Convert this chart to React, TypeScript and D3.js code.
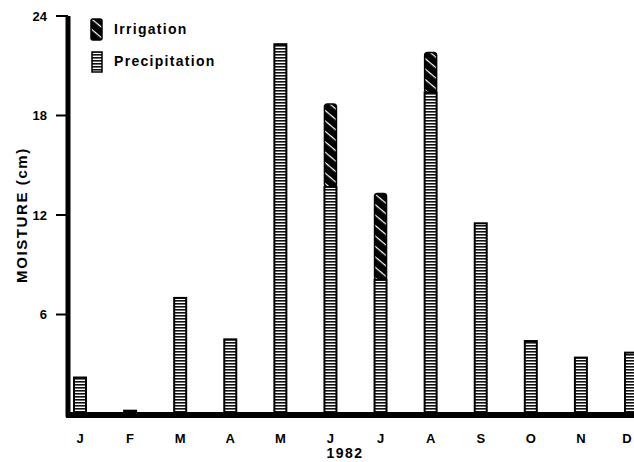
import React, { useEffect, useRef } from "react";
import * as d3 from "d3";

const months = ["J", "F", "M", "A", "M", "J", "J", "A", "S", "O", "N", "D"];
const precipitation = [2.2, 0.2, 7.0, 4.5, 22.3, 13.7, 8.1, 19.4, 11.5, 4.4, 3.4, 3.7];
const irrigation = [0, 0, 0, 0, 0, 5.0, 5.2, 2.4, 0, 0, 0, 0];
const yTicks = [6, 12, 18, 24];

const W = 634;
const H = 462;
const FONT = "'Liberation Sans', Arial, sans-serif";

const App: React.FC = () => {
  const svgRef = useRef<SVGSVGElement>(null);

  useEffect(() => {
    if (!svgRef.current) return;
    const svg = d3.select(svgRef.current);
    svg.selectAll("*").remove();

    const x = d3
      .scalePoint<number>()
      .domain(months.map((_, i) => i))
      .range([80, 631]);
    const y = d3.scaleLinear().domain([0, 24]).range([414, 16]);
    const barW = 12;

    // patterns
    const defs = svg.append("defs");
    const pp = defs
      .append("pattern")
      .attr("id", "precip")
      .attr("patternUnits", "userSpaceOnUse")
      .attr("width", 4)
      .attr("height", 3);
    pp.append("rect").attr("width", 4).attr("height", 3).attr("fill", "#fff");
    pp.append("rect").attr("y", 0).attr("width", 4).attr("height", 1.6).attr("fill", "#111");

    const ip = defs
      .append("pattern")
      .attr("id", "irrig")
      .attr("patternUnits", "userSpaceOnUse")
      .attr("width", 8)
      .attr("height", 8)
      .attr("patternTransform", "rotate(40)");
    ip.append("rect").attr("width", 8).attr("height", 8).attr("fill", "#000");
    ip.append("rect").attr("x", 0).attr("y", 3).attr("width", 8).attr("height", 1.2).attr("fill", "#fff");

    // bars: precipitation
    svg
      .append("g")
      .selectAll("rect")
      .data(precipitation)
      .enter()
      .append("rect")
      .attr("x", (_, i) => (x(i) || 0) - barW / 2)
      .attr("y", (d) => y(d))
      .attr("width", barW)
      .attr("height", (d) => y(0) - y(d))
      .attr("fill", "url(#precip)")
      .attr("stroke", "#000")
      .attr("stroke-width", 2);

    // bars: irrigation stacked on top
    svg
      .append("g")
      .selectAll("rect")
      .data(irrigation.map((v, i) => ({ v, i })).filter((d) => d.v > 0))
      .enter()
      .append("rect")
      .attr("x", (d) => (x(d.i) || 0) - barW / 2)
      .attr("y", (d) => y(precipitation[d.i] + d.v))
      .attr("width", barW)
      .attr("height", (d) => y(precipitation[d.i]) - y(precipitation[d.i] + d.v))
      .attr("rx", 3)
      .attr("fill", "url(#irrig)")
      .attr("stroke", "#000")
      .attr("stroke-width", 1.5);

    // y axis
    svg
      .append("line")
      .attr("x1", 68)
      .attr("x2", 68)
      .attr("y1", y(24))
      .attr("y2", y(0) + 3)
      .attr("stroke", "#000")
      .attr("stroke-width", 5);
    const yt = svg.append("g").selectAll("g").data(yTicks).enter().append("g");
    yt.append("line")
      .attr("x1", 56)
      .attr("x2", 68)
      .attr("y1", (d) => y(d))
      .attr("y2", (d) => y(d))
      .attr("stroke", "#000")
      .attr("stroke-width", 2);
    yt.append("text")
      .attr("x", 47)
      .attr("y", (d) => y(d))
      .attr("dy", "0.36em")
      .attr("text-anchor", "end")
      .attr("font-family", FONT)
      .attr("font-weight", "bold")
      .attr("font-size", 13)
      .text((d) => d);

    // baseline
    svg
      .append("line")
      .attr("x1", 66)
      .attr("x2", W)
      .attr("y1", y(0) + 1)
      .attr("y2", y(0) + 1)
      .attr("stroke", "#000")
      .attr("stroke-width", 6);

    // month labels
    svg
      .append("g")
      .selectAll("text")
      .data(months)
      .enter()
      .append("text")
      .attr("x", (_, i) => Math.min(x(i) || 0, 627))
      .attr("y", 443)
      .attr("text-anchor", "middle")
      .attr("font-family", FONT)
      .attr("font-weight", "bold")
      .attr("font-size", 13)
      .text((d) => d);

    svg
      .append("text")
      .attr("x", 345)
      .attr("y", 458)
      .attr("text-anchor", "middle")
      .attr("font-family", FONT)
      .attr("font-weight", "bold")
      .attr("font-size", 14)
      .attr("letter-spacing", 1.5)
      .text("1982");

    svg
      .append("text")
      .attr("transform", `translate(27, ${y(12)}) rotate(-90)`)
      .attr("text-anchor", "middle")
      .attr("font-family", FONT)
      .attr("font-weight", "bold")
      .attr("font-size", 15)
      .attr("letter-spacing", 1.6)
      .text("MOISTURE (cm)");

    // legend
    const leg = svg.append("g");
    leg.append("rect")
      .attr("x", 91)
      .attr("y", 19)
      .attr("width", 11)
      .attr("height", 21)
      .attr("rx", 2)
      .attr("fill", "url(#irrig)")
      .attr("stroke", "#000")
      .attr("stroke-width", 1.5);
    leg.append("rect")
      .attr("x", 92)
      .attr("y", 52)
      .attr("width", 10)
      .attr("height", 20)
      .attr("fill", "url(#precip)")
      .attr("stroke", "#000")
      .attr("stroke-width", 1.5);
    leg.selectAll("text")
      .data(["Irrigation", "Precipitation"])
      .enter()
      .append("text")
      .attr("x", 114)
      .attr("y", (_, i) => 34 + i * 32)
      .attr("font-family", FONT)
      .attr("font-size", 14)
      .attr("font-weight", 600)
      .attr("letter-spacing", 1.3)
      .attr("fill", "#000")
      .text((d) => d);
  }, []);

  return (
    <div style={{ position: "fixed", top: 0, left: 0, width: W, height: H, background: "#fff", overflow: "hidden" }}>
      <svg ref={svgRef} width={W} height={H} style={{ display: "block" }} />
    </div>
  );
};

export default App;
